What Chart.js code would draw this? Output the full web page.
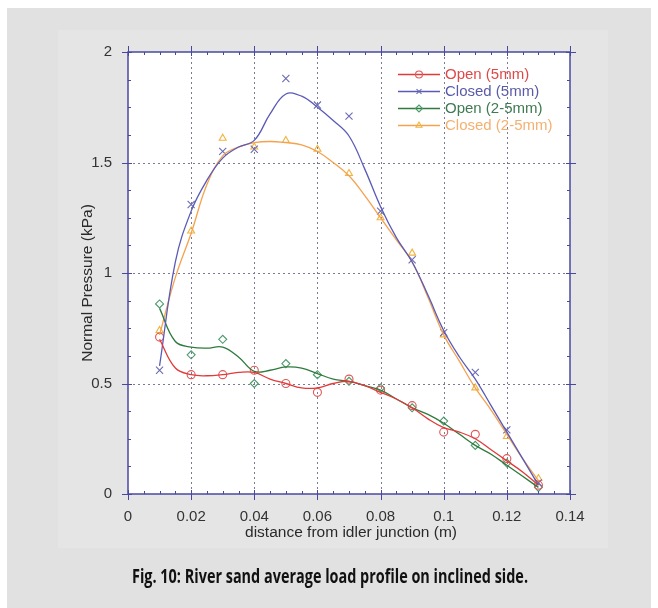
<!DOCTYPE html>
<html>
<head>
<meta charset="utf-8">
<script src="https://cdn.jsdelivr.net/npm/chart.js@4.4.1/dist/chart.umd.min.js"></script>
<style>
  html, body { margin: 0; padding: 0; background: #ffffff; }
  #wrap { width: 658px; height: 608px; position: relative; }
</style>
</head>
<body>
<div id="wrap"><canvas id="c" width="658" height="608"></canvas></div>
<script>
// ---- Data ----
const xPoints = [0.01, 0.02, 0.03, 0.04, 0.05, 0.06, 0.07, 0.08, 0.09, 0.10, 0.11, 0.12, 0.13];
const open5 = [0.71, 0.54, 0.54, 0.56, 0.50, 0.46, 0.52, 0.47, 0.40, 0.28, 0.27, 0.16, 0.04];
const closed5 = [0.56, 1.31, 1.55, 1.56, 1.88, 1.76, 1.71, 1.28, 1.06, 0.73, 0.55, 0.29, 0.05];
const open25 = [0.86, 0.63, 0.70, 0.50, 0.59, 0.54, 0.51, 0.48, 0.39, 0.33, 0.22, 0.14, 0.03];
const closed25 = [0.74, 1.19, 1.61, 1.57, 1.60, 1.56, 1.45, 1.25, 1.09, 0.72, 0.48, 0.26, 0.07];

// fitted curves
const xCurve = [0.01, 0.015, 0.02, 0.025, 0.03, 0.035, 0.04, 0.045, 0.05, 0.055, 0.06, 0.065, 0.07, 0.075, 0.08, 0.085, 0.09, 0.095, 0.10, 0.105, 0.11, 0.115, 0.12, 0.125, 0.13];
const open5Curve = [0.70, 0.57, 0.54, 0.535, 0.54, 0.55, 0.55, 0.52, 0.50, 0.48, 0.48, 0.50, 0.51, 0.49, 0.46, 0.43, 0.39, 0.34, 0.30, 0.28, 0.25, 0.20, 0.15, 0.10, 0.04];
const closed5Curve = [0.58, 1.05, 1.28, 1.42, 1.52, 1.57, 1.60, 1.72, 1.81, 1.80, 1.75, 1.69, 1.62, 1.47, 1.30, 1.16, 1.05, 0.90, 0.74, 0.62, 0.52, 0.40, 0.28, 0.16, 0.04];
const open25Curve = [0.84, 0.69, 0.665, 0.66, 0.665, 0.62, 0.555, 0.56, 0.575, 0.57, 0.545, 0.52, 0.51, 0.49, 0.47, 0.43, 0.39, 0.36, 0.32, 0.27, 0.22, 0.18, 0.13, 0.08, 0.03];
const closed25Curve = [0.72, 0.98, 1.18, 1.40, 1.53, 1.57, 1.59, 1.595, 1.59, 1.58, 1.55, 1.50, 1.44, 1.35, 1.25, 1.15, 1.05, 0.89, 0.72, 0.60, 0.48, 0.38, 0.27, 0.16, 0.06];

const seriesNames = ['Open (5mm)', 'Closed (5mm)', 'Open (2-5mm)', 'Closed (2-5mm)'];
const xTicks = [0, 0.02, 0.04, 0.06, 0.08, 0.1, 0.12, 0.14];
const yTicks = [0, 0.5, 1, 1.5, 2];
const caption = 'Fig. 10: River sand average load profile on inclined side.';
const xTitle = 'distance from idler junction (m)';
const yTitle = 'Normal Pressure (kPa)';

// ---- styles ----
const lineColors = ['#e23a3a', '#5a5ab8', '#2f7a3c', '#f5a24e'];
const markColors = ['#e05858', '#6a6ab4', '#4a9a6a', '#f0b440'];
const textColors = ['#e04848', '#5a5aa8', '#3f7a50', '#f5b070'];
const styles = ['circle', 'crossRot', 'rectRot', 'triangle'];
const FONT = 'Arial, "Liberation Sans", sans-serif';

function pts(xs, ys) { return xs.map((x, i) => ({ x: x, y: ys[i] })); }

const markerSets = [open5, closed5, open25, closed25];
const curveSets = [open5Curve, closed5Curve, open25Curve, closed25Curve];

const datasets = [];
curveSets.forEach((c, i) => {
  datasets.push({
    label: seriesNames[i] + ' fit',
    data: pts(xCurve, c),
    showLine: true,
    borderColor: lineColors[i],
    borderWidth: 1.3,
    pointRadius: 0,
    tension: 0.4,
    fill: false
  });
});
markerSets.forEach((m, i) => {
  datasets.push({
    label: seriesNames[i],
    data: pts(xPoints, m),
    showLine: false,
    pointStyle: styles[i],
    pointRadius: styles[i] === 'crossRot' ? 5 : 4,
    pointBorderColor: markColors[i],
    pointBackgroundColor: 'rgba(0,0,0,0)',
    pointBorderWidth: 1.1
  });
});

const framePlugin = {
  id: 'frame',
  beforeDraw(chart) {
    const ctx = chart.ctx;
    const a = chart.chartArea;
    ctx.save();
    ctx.fillStyle = '#ffffff';
    ctx.fillRect(0, 0, chart.width, chart.height);
    ctx.fillStyle = '#e1e1e1';
    ctx.fillRect(7, 8, chart.width - 14, chart.height - 8);
    ctx.fillStyle = '#e5e5e5';
    ctx.fillRect(58, 30, 550, 518);
    ctx.fillStyle = '#ffffff';
    ctx.fillRect(a.left, a.top, a.right - a.left, a.bottom - a.top);
    // dotted grid at interior ticks
    const xs = chart.scales.x, ys = chart.scales.y;
    ctx.strokeStyle = '#7a7a96';
    ctx.lineWidth = 1;
    ctx.setLineDash([2, 3]);
    xTicks.slice(1, -1).forEach(v => {
      const px = Math.round(xs.getPixelForValue(v)) + 0.5;
      ctx.beginPath(); ctx.moveTo(px, a.top); ctx.lineTo(px, a.bottom); ctx.stroke();
    });
    yTicks.slice(1, -1).forEach(v => {
      const py = Math.round(ys.getPixelForValue(v)) + 0.5;
      ctx.beginPath(); ctx.moveTo(a.left, py); ctx.lineTo(a.right, py); ctx.stroke();
    });
    ctx.setLineDash([]);
    ctx.restore();
  },
  afterDatasetsDraw(chart) {
    const ctx = chart.ctx;
    const a = chart.chartArea;
    const xs = chart.scales.x, ys = chart.scales.y;
    ctx.save();
    ctx.strokeStyle = '#4848a0';
    ctx.lineWidth = 1.5;
    ctx.strokeRect(a.left, a.top, a.right - a.left, a.bottom - a.top);
    ctx.lineWidth = 1;
    // x ticks
    for (let k = 0; k <= 28; k++) {
      const v = k * 0.005;
      const px = Math.round(xs.getPixelForValue(v)) + 0.5;
      const major = k % 4 === 0;
      ctx.beginPath();
      if (major) {
        ctx.moveTo(px, a.bottom + 6); ctx.lineTo(px, a.bottom - 4);
        ctx.moveTo(px, a.top - 6); ctx.lineTo(px, a.top + 4);
      } else {
        ctx.moveTo(px, a.bottom); ctx.lineTo(px, a.bottom - 3);
        ctx.moveTo(px, a.top); ctx.lineTo(px, a.top + 3);
      }
      ctx.stroke();
    }
    for (let k = 0; k <= 16; k++) {
      const v = k * 0.125;
      const py = Math.round(ys.getPixelForValue(v)) + 0.5;
      const major = k % 4 === 0;
      ctx.beginPath();
      if (major) {
        ctx.moveTo(a.left - 6, py); ctx.lineTo(a.left + 4, py);
        ctx.moveTo(a.right + 6, py); ctx.lineTo(a.right - 4, py);
      } else {
        ctx.moveTo(a.left, py); ctx.lineTo(a.left + 3, py);
        ctx.moveTo(a.right, py); ctx.lineTo(a.right - 3, py);
      }
      ctx.stroke();
    }
    // legend
    const lx = a.left + 270, ly0 = a.top + 22, dy = 17;
    seriesNames.forEach((name, i) => {
      const y = ly0 + i * dy;
      ctx.strokeStyle = lineColors[i];
      ctx.lineWidth = 1.3;
      ctx.beginPath(); ctx.moveTo(lx, y + 0.5); ctx.lineTo(lx + 42, y + 0.5); ctx.stroke();
      ctx.strokeStyle = markColors[i];
      ctx.fillStyle = 'rgba(0,0,0,0)';
      ctx.lineWidth = 1.1;
      Chart.helpers.drawPoint(ctx, {
        pointStyle: styles[i], radius: 3.5, borderWidth: 1.1, rotation: 0
      }, lx + 21, y + 0.5);
      ctx.fillStyle = textColors[i];
      ctx.font = '15px ' + FONT;
      ctx.textBaseline = 'middle';
      ctx.textAlign = 'left';
      ctx.fillText(name, lx + 47, y + 1);
    });
    // axis titles
    ctx.fillStyle = '#2a2a2a';
    ctx.font = '15.5px ' + FONT;
    ctx.textAlign = 'center';
    ctx.textBaseline = 'middle';
    ctx.fillText(xTitle, (a.left + a.right) / 2 + 2, a.bottom + 39);
    ctx.save();
    ctx.translate(88, (a.top + a.bottom) / 2 + 10);
    ctx.rotate(-Math.PI / 2);
    ctx.fillText(yTitle, 0, 0);
    ctx.restore();
    // caption: bold, condensed to the reference width
    ctx.font = 'bold 20px "Open Sans", sans-serif';
    const w = ctx.measureText(caption).width;
    const sx = 396 / w;
    ctx.save();
    ctx.translate(330, 577);
    ctx.scale(sx, 1);
    ctx.fillStyle = '#111111';
    ctx.fillText(caption, 0, 0);
    ctx.restore();
    ctx.restore();
  }
};

new Chart(document.getElementById('c'), {
  type: 'scatter',
  data: { datasets: datasets },
  options: {
    responsive: false,
    animation: false,
    layout: { padding: { left: 0, right: 88, top: 52, bottom: 0 } },
    plugins: { legend: { display: false }, tooltip: { enabled: false } },
    scales: {
      x: {
        type: 'linear', min: 0, max: 0.14,
        afterFit(s) { s.height = 114; },
        afterBuildTicks(s) { s.ticks = xTicks.map(v => ({ value: v })); },
        grid: { display: false },
        border: { display: false },
        ticks: {
          color: '#333333', padding: 6,
          font: { size: 15, family: FONT },
          callback: v => String(Number(v.toFixed(2)))
        }
      },
      y: {
        type: 'linear', min: 0, max: 2,
        afterFit(s) { s.width = 128; },
        afterBuildTicks(s) { s.ticks = yTicks.map(v => ({ value: v })); },
        grid: { display: false },
        border: { display: false },
        ticks: {
          color: '#333333', padding: 8,
          font: { size: 15, family: FONT },
          callback: v => String(v)
        }
      }
    }
  },
  plugins: [framePlugin]
});
</script>
</body>
</html>
